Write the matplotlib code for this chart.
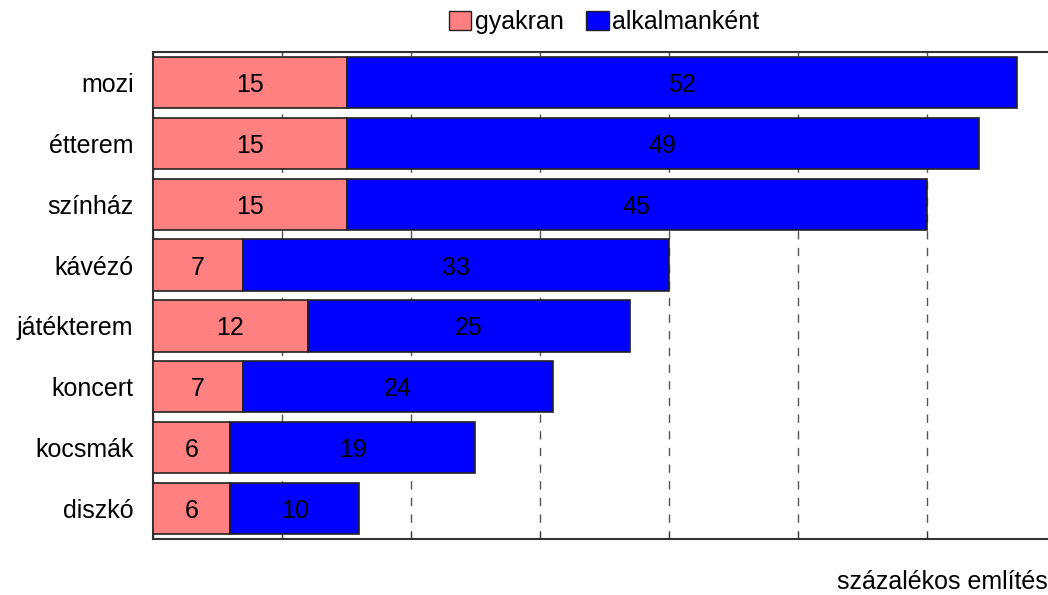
import matplotlib.pyplot as plt
from matplotlib.patches import Patch

plt.rcParams['font.family'] = ['Liberation Sans', 'DejaVu Sans']

categories = ["mozi", "étterem", "színház", "kávézó", "játékterem", "koncert", "kocsmák", "diszkó"]
gyakran = [15, 15, 15, 7, 12, 7, 6, 6]
alkalmankent = [52, 49, 45, 33, 25, 24, 19, 10]

pink = "#FF8080"
blue = "#0000FF"

fig = plt.figure(figsize=(10.48, 5.95), dpi=100)
ax = fig.add_axes([153 / 1048, 1 - 539 / 595, 895 / 1048, 487 / 595])

y = list(range(len(categories)))
ax.barh(y, gyakran, height=0.84, color=pink, edgecolor="#222222", linewidth=1.2, zorder=3)
ax.barh(y, alkalmankent, left=gyakran, height=0.84, color=blue, edgecolor="#222222", linewidth=1.2, zorder=3)

for i in y:
    ax.text(gyakran[i] / 2, i, str(gyakran[i]), ha="center", va="center_baseline", fontsize=18, zorder=4)
    ax.text(gyakran[i] + alkalmankent[i] / 2, i, str(alkalmankent[i]), ha="center",
            va="center_baseline", fontsize=18, zorder=4)

ax.set_ylim(len(categories) - 0.5, -0.5)
ax.set_xlim(0, 895 / 12.9)
ax.set_yticks(y)
ax.set_yticklabels(categories, fontsize=18, va="center_baseline")
ax.tick_params(axis="y", length=0, pad=14)
ax.set_xticks([0, 10, 20, 30, 40, 50, 60])
ax.set_xticklabels([])
ax.tick_params(axis="x", direction="in", length=5, color="#333333")
ax.grid(axis="x", linestyle=(0, (6, 6)), color="#555555", linewidth=1, zorder=0)

for s in ["left", "bottom", "top"]:
    ax.spines[s].set_color("#333333")
    ax.spines[s].set_linewidth(1.5)
ax.spines["right"].set_visible(False)

handles = [Patch(facecolor=pink, edgecolor="#222222", label="gyakran"),
           Patch(facecolor=blue, edgecolor="#222222", label="alkalmanként")]
fig.legend(handles=handles, loc="center", bbox_to_anchor=(604 / 1048, 1 - 22 / 595), ncol=2,
           frameon=False, fontsize=18, handlelength=0.9, handleheight=0.8, handletextpad=0.15,
           columnspacing=0.9, borderpad=0)

fig.text(1.0, 1 - 582 / 595, "százalékos említés", ha="right", va="center", fontsize=18)

fig.savefig("out.png", dpi=100)
